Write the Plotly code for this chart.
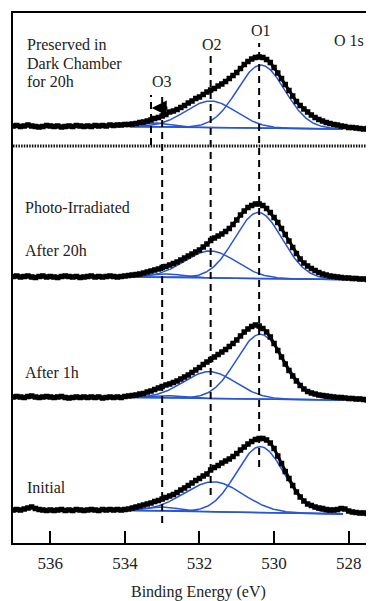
import numpy as np
import plotly.graph_objects as go

# ---------------- data ----------------
binding_energy = [round(537.0 - 0.1 * i, 1) for i in range(98)]  # eV, 537.0 ... 527.3

intensity_dark_20h = [
    3.5, 4, 3, 3.5, 4.5, 3.5, 3, 2.5, 3, 4,
    3.5, 3, 3.5, 2.5, 3, 3.5, 3, 4, 3.5, 3,
    3.5, 3, 4, 3.5, 4, 3.5, 4.5, 4, 4.5, 4.5,
    5, 5, 5.5, 6, 7, 7.5, 8.5, 9.5, 11, 12,
    13.5, 15, 17.5, 18.5, 20, 22, 24, 26.5, 28.5, 31,
    32.5, 35, 37.5, 39.5, 41, 43.5, 45.5, 48, 51, 54,
    57, 61, 65, 68, 70.5, 72, 72.5, 72, 70, 67,
    62, 56.5, 51, 45, 39, 33.5, 28, 24, 20.5, 17.5,
    14.5, 12, 10, 8.5, 7, 6, 5, 4.5, 3.5, 3,
    2, 2, 1.5, 1, 0.5, 1, 0.5, 0,
]
intensity_photo_20h = [
    3, 3.5, 2.5, 3, 3.5, 2.5, 2, 3, 3.5, 2.5,
    3, 2.5, 2, 3, 3.5, 3, 2.5, 3, 2, 2.5,
    3, 3.5, 2.5, 3, 2.5, 3, 3.5, 3, 2.5, 3,
    3.5, 4, 4.5, 5, 5.5, 6.5, 7.5, 8.5, 9.5, 10.5,
    12, 13, 14.5, 16, 17.5, 19.5, 21.5, 23.5, 25.5, 27.5,
    29.5, 32.5, 35.5, 39, 41.5, 43.5, 45.5, 48, 51, 55,
    59.5, 64.5, 68.5, 72, 74, 75.5, 75.5, 74, 71, 67,
    62, 57, 51, 45, 38.5, 32, 26, 20.5, 16.5, 13.5,
    11, 9, 7, 5.5, 4.5, 3.5, 3, 2.5, 2, 1.5,
    1.5, 1, 1, 0.5, 0.5, 0, 0.5, 0,
]
intensity_photo_1h = [
    3.5, 4, 3.5, 3, 4, 4.5, 3.5, 3, 3.5, 4,
    3.5, 3, 3.5, 4, 3, 2.5, 3, 3.5, 3, 3.5,
    3, 3.5, 3, 3.5, 2.5, 3, 3.5, 3, 3.5, 3,
    4, 4.5, 5, 5.5, 6.5, 7, 8.5, 9.5, 11, 12.5,
    14, 15.5, 16.5, 18, 19.5, 21.5, 23.5, 25.5, 28, 30.5,
    33, 36, 38.5, 41, 43.5, 46, 48.5, 51, 54, 57,
    60.5, 64.5, 68.5, 71.5, 74, 75.5, 74.5, 72, 68.5, 63.5,
    57, 50, 43.5, 36.5, 30, 24.5, 19.5, 15, 11.5, 9,
    7.5, 6.5, 5.5, 5, 4.5, 4, 3.5, 3, 3, 2.5,
    2, 2, 1.5, 1.5, 1, 0.5, 1, 0.5,
]
intensity_initial = [
    4.5, 5, 4.5, 5.5, 6.5, 7.5, 6, 5, 4.5, 4,
    4.5, 4, 4.5, 5, 4, 4.5, 4, 5, 4.5, 4,
    4.5, 5, 4.5, 4, 5, 4.5, 5, 4.5, 5, 4.5,
    5, 5.5, 6.5, 7.5, 8.5, 9.5, 10.5, 11.5, 13, 14,
    15.5, 17, 18.5, 20, 22, 24.5, 26.5, 29, 31.5, 34,
    36, 38.5, 40.5, 44.5, 47, 49, 51.5, 53.5, 55.5, 58,
    61, 64.5, 67.5, 70.5, 73, 75, 76, 76, 74.5, 71.5,
    66, 58.5, 51, 43, 36, 29, 22.5, 17.5, 13.5, 10.5,
    9, 7.5, 6.5, 6, 5, 4.5, 4.5, 5, 6, 5.5,
    3.5, 2.5, 2, 1.5, 1.5, 1, 1.5, 1,
]

spectra = [intensity_dark_20h, intensity_photo_20h, intensity_photo_1h, intensity_initial]

# fitted components: (center eV, height a.u., FWHM eV) for O1, O2, O3
peaks_dark_20h = [(530.35, 63.0, 1.5), (531.70, 26.5, 1.6), (533.20, 4.0, 1.0)]
peaks_photo_20h = [(530.42, 66.0, 1.5), (531.71, 27.0, 1.65), (532.90, 3.5, 1.1)]
peaks_photo_1h = [(530.37, 64.7, 1.5), (531.73, 26.8, 1.65), (533.00, 2.5, 1.1)]
peaks_initial = [(530.37, 66.0, 1.5), (531.62, 30.0, 1.85), (533.00, 4.0, 1.0)]
peak_sets = [peaks_dark_20h, peaks_photo_20h, peaks_photo_1h, peaks_initial]

fit_window = [533.85, 528.15]          # eV
background_levels = [[2.8, 0.5], [2.5, 0.0], [3.0, 0.5], [4.0, 0.5]]  # at window ends

# vertical stacking offsets (a.u.)
stack_offsets = [413.5, 263.5, 142.5, 28.5]

# reference peak positions (eV)
o1_position, o2_position, o3_position, o3_shifted = 530.4, 531.7, 533.0, 533.3

tick_values = [536, 534, 532, 530, 528]

# ---------------- figure ----------------
FONT = "Liberation Serif"
BLUE = "#2a55d6"
fig = go.Figure()

fit_x = np.linspace(fit_window[0], fit_window[1], 240)
for spec, peaks, bg, off in zip(spectra, peak_sets, background_levels, stack_offsets):
    bg_line = bg[1] + (bg[0] - bg[1]) * (fit_x - fit_window[1]) / (fit_window[0] - fit_window[1])
    fig.add_trace(go.Scatter(x=fit_x, y=bg_line + off, mode="lines",
                             line=dict(color=BLUE, width=1.5), hoverinfo="skip", showlegend=False))
    for c, h, w in peaks:
        comp = h * np.exp(-4 * np.log(2) * ((fit_x - c) / w) ** 2)
        fig.add_trace(go.Scatter(x=fit_x, y=bg_line + comp + off, mode="lines",
                                 line=dict(color=BLUE, width=1.5), hoverinfo="skip",
                                 showlegend=False))
    fig.add_trace(go.Scatter(x=binding_energy, y=[v + off for v in spec], mode="lines+markers",
                             line=dict(color="black", width=3),
                             marker=dict(symbol="square", size=5.5, color="black"),
                             showlegend=False))

# dashed reference lines
dash_style = dict(color="black", width=2, dash="7px,5px")
for xpos, ytop, ybot in [(o1_position, 500, 76), (o2_position, 488, 48),
                         (o3_position, 446, 20), (o3_shifted, 448, 398)]:
    fig.add_shape(type="line", x0=xpos, x1=xpos, y0=ybot, y1=ytop, xref="x", yref="y",
                  line=dash_style, layer="above")

# dotted separator
fig.add_shape(type="line", x0=0, x1=1, xref="paper", y0=397, y1=397, yref="y",
              line=dict(color="#111", width=3, dash="1.5px,1.2px"), layer="above")

# shift arrow
fig.add_annotation(x=533.28, y=435, ax=532.82, ay=435, xref="x", yref="y", axref="x", ayref="y",
                   text="", showarrow=True, arrowhead=2, arrowsize=1, arrowwidth=3,
                   arrowcolor="black")

txt = dict(family=FONT, size=16, color="#222")
left_labels = [("Preserved in", 536.69, 499), ("Dark Chamber", 536.69, 480),
               ("for 20h", 536.69, 462), ("Photo-Irradiated", 536.74, 336),
               ("After 20h", 536.74, 293), ("After 1h", 536.74, 171), ("Initial", 536.69, 56)]
for t, x, y in left_labels:
    fig.add_annotation(x=x, y=y, text=t, showarrow=False, xanchor="left", yanchor="middle",
                       font=txt, xref="x", yref="y")
for t, x, y in [("O1", 530.34, 513), ("O2", 531.66, 499), ("O3", 533.0, 461.5),
                ("O 1s", 527.98, 502.5)]:
    fig.add_annotation(x=x, y=y, text=t, showarrow=False, xanchor="center", yanchor="middle",
                       font=txt, xref="x", yref="y")

fig.add_annotation(x=532.02, y=-0.0925, xref="x", yref="paper", text="Binding Energy (eV)",
                   showarrow=False, xanchor="center", yanchor="middle",
                   font=dict(family=FONT, size=16, color="#222"))

# the page body adds an 8px margin, so the figure is sized to the remaining window area
fig.update_layout(
    width=366, height=593, margin=dict(l=5, r=0, t=5, b=58),
    paper_bgcolor="white", plot_bgcolor="white",
    xaxis=dict(range=[537.0, 527.32], showline=True, linecolor="black", linewidth=2,
               mirror=True, ticks="inside", ticklen=12, tickwidth=2, tickcolor="black",
               tickvals=tick_values, ticktext=[str(v) for v in tick_values],
               tickfont=dict(family=FONT, size=17, color="#222"), ticklabelstandoff=4,
               showgrid=False, zeroline=False),
    yaxis=dict(range=[0, 530], showline=True, linecolor="black", linewidth=2, mirror=False,
               showticklabels=False, ticks="", showgrid=False, zeroline=False),
)

fig.write_html("out.html")
